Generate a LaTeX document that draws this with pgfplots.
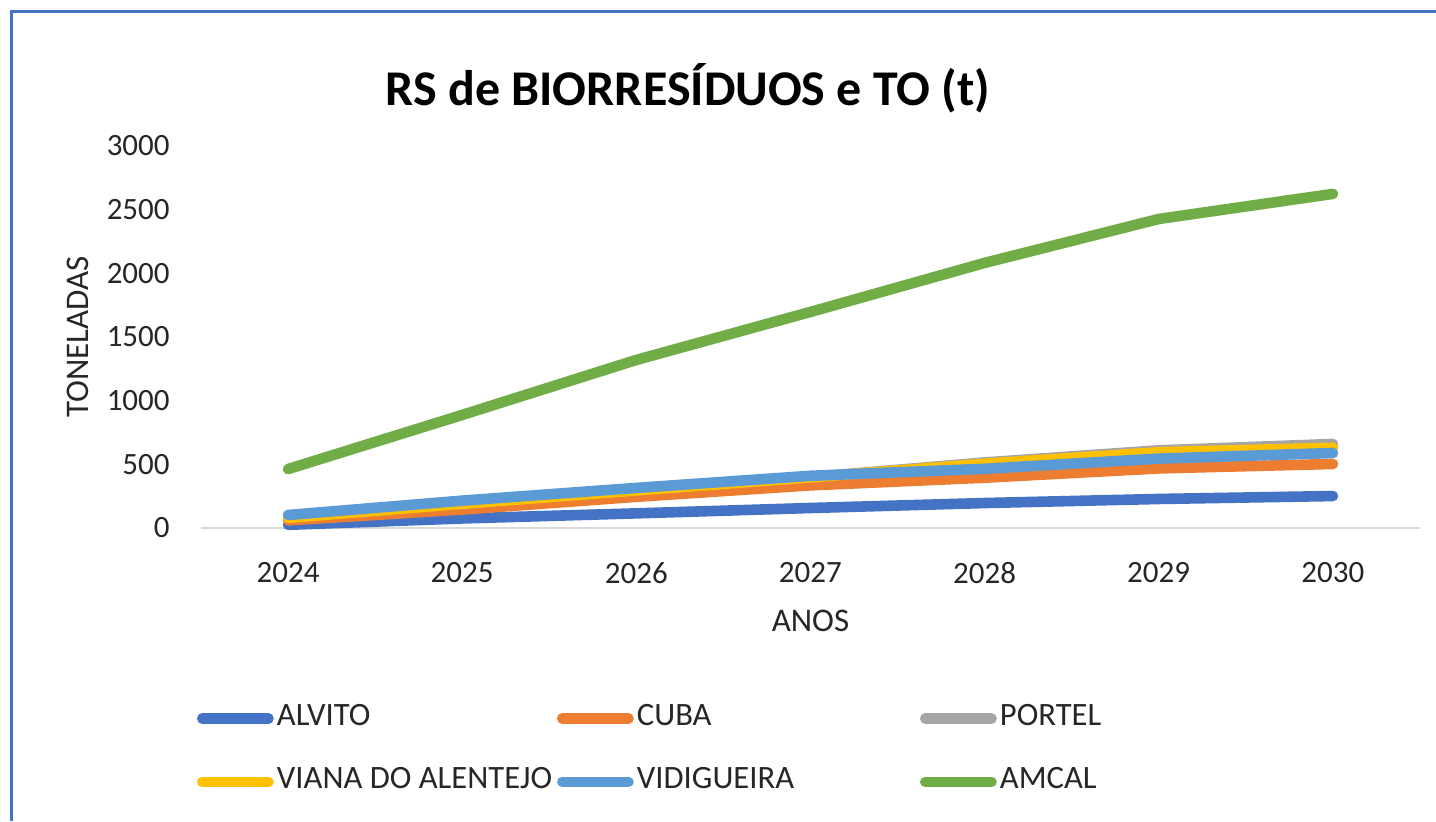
\documentclass[border=0pt]{standalone}
\usepackage{fontspec}
\setmainfont{Carlito}
\usepackage{pgfplots}
\pgfplotsset{compat=1.18}
\definecolor{cAlvito}{HTML}{4472C4}
\definecolor{cCuba}{HTML}{ED7D31}
\definecolor{cPortel}{HTML}{A5A5A5}
\definecolor{cViana}{HTML}{FFC000}
\definecolor{cVidi}{HTML}{5B9BD5}
\definecolor{cAmcal}{HTML}{70AD47}
\definecolor{cFrame}{HTML}{4472C4}
\begin{document}
\begin{tikzpicture}
\path[use as bounding box] (0,0) rectangle (718pt,410.5pt);
\draw[cFrame, line width=1.5pt] (5.75pt,0) -- (5.75pt,404.75pt) -- (718pt,404.75pt);
\begin{axis}[
  at={(100.5pt,146.5pt)}, anchor=south west,
  width=609.5pt, height=191pt, scale only axis,
  xmin=2023.5, xmax=2030.5, ymin=0, ymax=3000,
  xtick={2024,...,2030}, ytick={0,500,...,3000},
  xticklabel={\pgfmathprintnumber[1000 sep={}]{\tick}},
  /pgf/number format/assume math mode=true,
  /pgf/number format/1000 sep={},
  major tick length=0pt,
  axis x line*=bottom, axis y line*=left,
  x axis line style={draw=black!15, line width=1pt, -},
  y axis line style={draw=none},
  tick label style={font=\fontsize{15.5}{18}\selectfont, text=black!85},
  yticklabel style={inner sep=0pt, anchor=east, xshift=-15.5pt},
  xticklabel style={inner sep=0pt, anchor=north, yshift=-17pt},
  xlabel={ANOS}, ylabel={TONELADAS},
  label style={font=\fontsize{16.5}{19}\selectfont, text=black!85},
  xlabel style={at={(axis description cs:0.5,-0.215)}, anchor=north, inner sep=0pt},
  ylabel style={at={(axis description cs:-0.092,0.5)}, anchor=south, inner sep=0pt},
  title={RS de BIORRESÍDUOS e TO (t)},
  title style={font=\fontsize{25}{30}\bfseries, at={(axis description cs:0.3995,1.074)}, anchor=base, inner sep=0pt},
  clip=false,
  legend columns=3,
  legend style={draw=none, fill=none, inner sep=0pt, outer sep=0pt,
    at={(axis description cs:-0.0033,-0.5746)}, anchor=west,
    font=\fontsize{16.3}{19}\selectfont, text=black!85,
    nodes={inner sep=0pt, outer sep=0pt, anchor=base west},
    row sep=19.5pt, column sep=0pt},
  legend image code/.code={
    \path[draw=none, fill=none] (0pt,0pt) -- (40pt,0pt);
    \draw[#1, fill=none, line width=5.2pt, line cap=round] (2.6pt,0.32em) -- (35.8pt,0.32em);
  },
  every axis plot/.append style={line width=5.3pt, line cap=round, line join=round, mark=none},
]
\addplot[cAlvito] coordinates {(2024,25) (2025,75) (2026,115) (2027,157) (2028,196) (2029,228) (2030,251)};
\addlegendentry{\makebox[140pt][l]{ALVITO}}
\addplot[cCuba] coordinates {(2024,60) (2025,145) (2026,245) (2027,335) (2028,395) (2029,468) (2030,503)};
\addlegendentry{\makebox[141.5pt][l]{CUBA}}
\addplot[cPortel] coordinates {(2024,85) (2025,195) (2026,300) (2027,400) (2028,515) (2029,610) (2030,660)};
\addlegendentry{\makebox[140pt][l]{PORTEL}}
\addplot[cViana] coordinates {(2024,80) (2025,190) (2026,295) (2027,398) (2028,505) (2029,595) (2030,630)};
\addlegendentry{\makebox[140pt][l]{VIANA DO ALENTEJO}}
\addplot[cVidi] coordinates {(2024,102) (2025,215) (2026,315) (2027,410) (2028,465) (2029,545) (2030,589)};
\addlegendentry{\makebox[141.5pt][l]{VIDIGUEIRA}}
\addplot[cAmcal] coordinates {(2024,463) (2025,888) (2026,1320) (2027,1697) (2028,2082) (2029,2427) (2030,2624)};
\addlegendentry{\makebox[140pt][l]{AMCAL}}
\end{axis}
\end{tikzpicture}
\end{document}
